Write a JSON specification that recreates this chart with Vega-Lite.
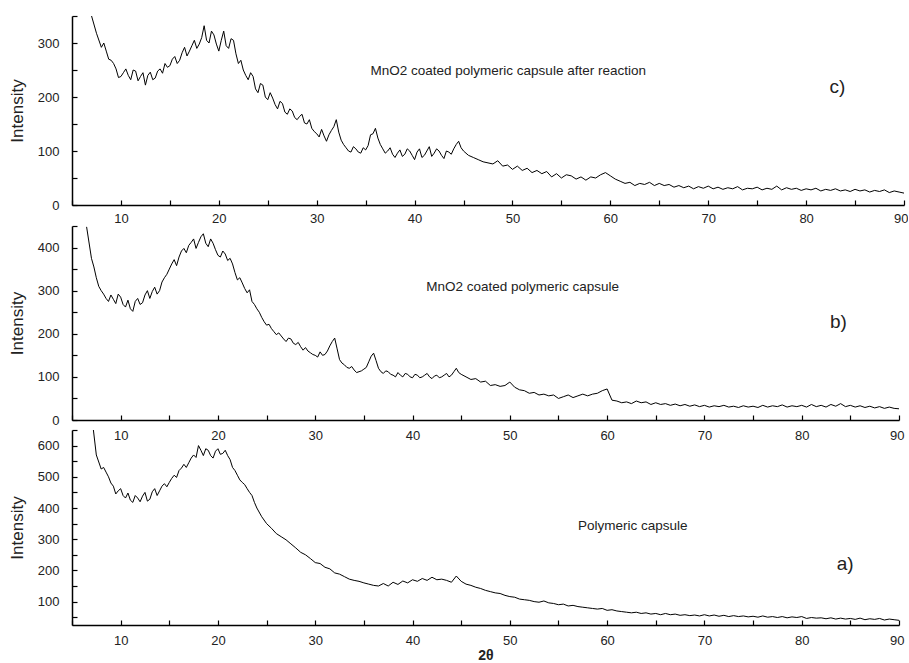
{
"$schema": "https://vega.github.io/schema/vega-lite/v6.json",
"padding": {"left": 8, "top": 15, "right": 0, "bottom": 0},
"config": {
  "view": {"stroke": null},
  "axis": {"grid": false, "domainColor": "#000", "domainWidth": 1.5, "tickColor": "#000", "tickWidth": 1.2, "tickSize": -5,
    "labelColor": "#222", "labelFont": "Liberation Sans", "labelFontSize": 13,
    "titleColor": "#222", "titleFont": "Liberation Sans", "titleFontSize": 17, "titleFontWeight": "normal"},
  "text": {"font": "Liberation Sans", "color": "#222"}
},
"datasets": {
"c": [{"t":7,"i":350},{"t":7.5,"i":318},{"t":8,"i":292},{"t":8.5,"i":285},{"t":9,"i":268},{"t":9.5,"i":252},{"t":10,"i":238},{"t":10.5,"i":252},{"t":11,"i":232},{"t":11.5,"i":248},{"t":12,"i":238},{"t":12.5,"i":222},{"t":13,"i":246},{"t":13.5,"i":235},{"t":14,"i":252},{"t":14.5,"i":262},{"t":15,"i":258},{"t":15.5,"i":275},{"t":16,"i":268},{"t":16.5,"i":292},{"t":17,"i":285},{"t":17.5,"i":305},{"t":18,"i":298},{"t":18.5,"i":332},{"t":19,"i":300},{"t":19.5,"i":315},{"t":20,"i":285},{"t":20.5,"i":322},{"t":21,"i":290},{"t":21.5,"i":305},{"t":22,"i":262},{"t":22.5,"i":250},{"t":23,"i":232},{"t":23.5,"i":238},{"t":24,"i":208},{"t":24.5,"i":222},{"t":25,"i":195},{"t":25.5,"i":198},{"t":26,"i":178},{"t":26.5,"i":188},{"t":27,"i":168},{"t":27.5,"i":174},{"t":28,"i":158},{"t":28.5,"i":168},{"t":29,"i":150},{"t":29.5,"i":142},{"t":30,"i":132},{"t":30.5,"i":140},{"t":31,"i":118},{"t":31.5,"i":138},{"t":32,"i":158},{"t":32.5,"i":120},{"t":33,"i":106},{"t":33.5,"i":98},{"t":34,"i":104},{"t":34.5,"i":96},{"t":35,"i":102},{"t":35.5,"i":130},{"t":36,"i":142},{"t":36.5,"i":112},{"t":37,"i":96},{"t":37.5,"i":106},{"t":38,"i":88},{"t":38.5,"i":102},{"t":39,"i":94},{"t":39.5,"i":100},{"t":40,"i":84},{"t":40.5,"i":104},{"t":41,"i":92},{"t":41.5,"i":108},{"t":42,"i":96},{"t":42.5,"i":100},{"t":43,"i":86},{"t":43.5,"i":98},{"t":44,"i":104},{"t":44.5,"i":118},{"t":45,"i":100},{"t":45.5,"i":92},{"t":46,"i":88},{"t":46.5,"i":84},{"t":47,"i":80},{"t":47.5,"i":78},{"t":48,"i":76},{"t":48.5,"i":82},{"t":49,"i":72},{"t":49.5,"i":74},{"t":50,"i":66},{"t":50.5,"i":72},{"t":51,"i":64},{"t":51.5,"i":68},{"t":52,"i":60},{"t":52.5,"i":64},{"t":53,"i":58},{"t":53.5,"i":62},{"t":54,"i":52},{"t":54.5,"i":58},{"t":55,"i":50},{"t":55.5,"i":56},{"t":56,"i":54},{"t":56.5,"i":48},{"t":57,"i":52},{"t":57.5,"i":46},{"t":58,"i":52},{"t":58.5,"i":50},{"t":59,"i":56},{"t":59.5,"i":60},{"t":60,"i":54},{"t":60.5,"i":48},{"t":61,"i":44},{"t":61.5,"i":40},{"t":62,"i":42},{"t":62.5,"i":36},{"t":63,"i":40},{"t":63.5,"i":38},{"t":64,"i":42},{"t":64.5,"i":36},{"t":65,"i":40},{"t":65.5,"i":36},{"t":66,"i":38},{"t":66.5,"i":33},{"t":67,"i":36},{"t":67.5,"i":32},{"t":68,"i":35},{"t":68.5,"i":30},{"t":69,"i":34},{"t":69.5,"i":31},{"t":70,"i":35},{"t":70.5,"i":30},{"t":71,"i":33},{"t":71.5,"i":29},{"t":72,"i":32},{"t":72.5,"i":30},{"t":73,"i":34},{"t":73.5,"i":28},{"t":74,"i":31},{"t":74.5,"i":30},{"t":75,"i":33},{"t":75.5,"i":28},{"t":76,"i":31},{"t":76.5,"i":29},{"t":77,"i":35},{"t":77.5,"i":28},{"t":78,"i":32},{"t":78.5,"i":29},{"t":79,"i":31},{"t":79.5,"i":27},{"t":80,"i":30},{"t":80.5,"i":28},{"t":81,"i":31},{"t":81.5,"i":26},{"t":82,"i":29},{"t":82.5,"i":27},{"t":83,"i":30},{"t":83.5,"i":26},{"t":84,"i":28},{"t":84.5,"i":25},{"t":85,"i":29},{"t":85.5,"i":26},{"t":86,"i":28},{"t":86.5,"i":24},{"t":87,"i":27},{"t":87.5,"i":25},{"t":88,"i":28},{"t":88.5,"i":23},{"t":89,"i":26},{"t":89.5,"i":24},{"t":90,"i":22},
{"t":8.25,"i":300},{"t":8.75,"i":270},{"t":9.25,"i":262},{"t":9.75,"i":236},{"t":10.25,"i":245},{"t":10.75,"i":240},{"t":11.25,"i":250},{"t":11.75,"i":230},{"t":12.25,"i":245},{"t":12.75,"i":240},{"t":13.25,"i":232},{"t":13.75,"i":248},{"t":14.25,"i":244},{"t":14.75,"i":255},{"t":15.25,"i":270},{"t":15.75,"i":262},{"t":16.25,"i":282},{"t":16.75,"i":276},{"t":17.25,"i":295},{"t":17.75,"i":290},{"t":18.25,"i":310},{"t":18.75,"i":305},{"t":19.25,"i":322},{"t":19.75,"i":298},{"t":20.25,"i":305},{"t":20.75,"i":295},{"t":21.25,"i":308},{"t":21.75,"i":280},{"t":22.25,"i":268},{"t":22.75,"i":240},{"t":23.25,"i":245},{"t":23.75,"i":215},{"t":24.25,"i":225},{"t":24.75,"i":200},{"t":25.25,"i":208},{"t":25.75,"i":186},{"t":26.25,"i":192},{"t":26.75,"i":172},{"t":27.25,"i":178},{"t":27.75,"i":162},{"t":28.25,"i":164},{"t":28.75,"i":152},{"t":29.25,"i":158},{"t":29.75,"i":136},{"t":30.25,"i":126},{"t":30.75,"i":128},{"t":31.25,"i":130},{"t":31.75,"i":145},{"t":32.25,"i":135},{"t":32.75,"i":112},{"t":33.25,"i":100},{"t":33.75,"i":108},{"t":34.25,"i":98},{"t":34.75,"i":106},{"t":35.25,"i":110},{"t":35.75,"i":132},{"t":36.25,"i":124},{"t":36.75,"i":104},{"t":37.25,"i":100},{"t":37.75,"i":94},{"t":38.25,"i":96},{"t":38.75,"i":90},{"t":39.25,"i":104},{"t":39.75,"i":92},{"t":40.25,"i":98},{"t":40.75,"i":88},{"t":41.25,"i":100},{"t":41.75,"i":90},{"t":42.25,"i":104},{"t":42.75,"i":92},{"t":43.25,"i":100},{"t":43.75,"i":94},{"t":44.25,"i":112},{"t":44.75,"i":106}],
"b": [{"t":6.5,"i":448},{"t":7,"i":375},{"t":7.5,"i":330},{"t":8,"i":300},{"t":8.5,"i":282},{"t":9,"i":290},{"t":9.5,"i":270},{"t":10,"i":285},{"t":10.5,"i":262},{"t":11,"i":258},{"t":11.5,"i":275},{"t":12,"i":268},{"t":12.5,"i":290},{"t":13,"i":282},{"t":13.5,"i":308},{"t":14,"i":300},{"t":14.5,"i":330},{"t":15,"i":350},{"t":15.5,"i":372},{"t":16,"i":378},{"t":16.5,"i":398},{"t":17,"i":405},{"t":17.5,"i":420},{"t":18,"i":412},{"t":18.5,"i":432},{"t":19,"i":402},{"t":19.5,"i":410},{"t":20,"i":382},{"t":20.5,"i":392},{"t":21,"i":370},{"t":21.5,"i":362},{"t":22,"i":325},{"t":22.5,"i":318},{"t":23,"i":295},{"t":23.5,"i":275},{"t":24,"i":258},{"t":24.5,"i":238},{"t":25,"i":220},{"t":25.5,"i":212},{"t":26,"i":198},{"t":26.5,"i":195},{"t":27,"i":182},{"t":27.5,"i":188},{"t":28,"i":175},{"t":28.5,"i":170},{"t":29,"i":168},{"t":29.5,"i":156},{"t":30,"i":150},{"t":30.5,"i":158},{"t":31,"i":152},{"t":31.5,"i":172},{"t":32,"i":190},{"t":32.5,"i":140},{"t":33,"i":128},{"t":33.5,"i":120},{"t":34,"i":116},{"t":34.5,"i":112},{"t":35,"i":118},{"t":35.5,"i":135},{"t":36,"i":155},{"t":36.5,"i":120},{"t":37,"i":108},{"t":37.5,"i":112},{"t":38,"i":104},{"t":38.5,"i":110},{"t":39,"i":100},{"t":39.5,"i":106},{"t":40,"i":98},{"t":40.5,"i":104},{"t":41,"i":100},{"t":41.5,"i":108},{"t":42,"i":96},{"t":42.5,"i":104},{"t":43,"i":100},{"t":43.5,"i":108},{"t":44,"i":104},{"t":44.5,"i":120},{"t":45,"i":106},{"t":45.5,"i":100},{"t":46,"i":94},{"t":46.5,"i":96},{"t":47,"i":88},{"t":47.5,"i":90},{"t":48,"i":80},{"t":48.5,"i":82},{"t":49,"i":78},{"t":49.5,"i":80},{"t":50,"i":88},{"t":50.5,"i":76},{"t":51,"i":70},{"t":51.5,"i":68},{"t":52,"i":62},{"t":52.5,"i":64},{"t":53,"i":58},{"t":53.5,"i":60},{"t":54,"i":56},{"t":54.5,"i":58},{"t":55,"i":50},{"t":55.5,"i":54},{"t":56,"i":58},{"t":56.5,"i":52},{"t":57,"i":56},{"t":57.5,"i":60},{"t":58,"i":56},{"t":58.5,"i":60},{"t":59,"i":62},{"t":59.5,"i":68},{"t":60,"i":72},{"t":60.5,"i":46},{"t":61,"i":44},{"t":61.5,"i":40},{"t":62,"i":42},{"t":62.5,"i":38},{"t":63,"i":44},{"t":63.5,"i":40},{"t":64,"i":42},{"t":64.5,"i":36},{"t":65,"i":40},{"t":65.5,"i":36},{"t":66,"i":38},{"t":66.5,"i":34},{"t":67,"i":37},{"t":67.5,"i":33},{"t":68,"i":36},{"t":68.5,"i":32},{"t":69,"i":35},{"t":69.5,"i":31},{"t":70,"i":34},{"t":70.5,"i":30},{"t":71,"i":33},{"t":71.5,"i":31},{"t":72,"i":34},{"t":72.5,"i":30},{"t":73,"i":32},{"t":73.5,"i":29},{"t":74,"i":33},{"t":74.5,"i":30},{"t":75,"i":32},{"t":75.5,"i":29},{"t":76,"i":34},{"t":76.5,"i":30},{"t":77,"i":33},{"t":77.5,"i":31},{"t":78,"i":35},{"t":78.5,"i":30},{"t":79,"i":33},{"t":79.5,"i":31},{"t":80,"i":34},{"t":80.5,"i":30},{"t":81,"i":36},{"t":81.5,"i":31},{"t":82,"i":34},{"t":82.5,"i":30},{"t":83,"i":36},{"t":83.5,"i":32},{"t":84,"i":38},{"t":84.5,"i":31},{"t":85,"i":34},{"t":85.5,"i":30},{"t":86,"i":33},{"t":86.5,"i":29},{"t":87,"i":32},{"t":87.5,"i":28},{"t":88,"i":31},{"t":88.5,"i":27},{"t":89,"i":30},{"t":89.5,"i":27},{"t":90,"i":26},
{"t":7.25,"i":355},{"t":7.75,"i":310},{"t":8.25,"i":292},{"t":8.75,"i":275},{"t":9.25,"i":280},{"t":9.75,"i":292},{"t":10.25,"i":268},{"t":10.75,"i":278},{"t":11.25,"i":252},{"t":11.75,"i":282},{"t":12.25,"i":272},{"t":12.75,"i":300},{"t":13.25,"i":298},{"t":13.75,"i":292},{"t":14.25,"i":320},{"t":14.75,"i":338},{"t":15.25,"i":362},{"t":15.75,"i":358},{"t":16.25,"i":392},{"t":16.75,"i":388},{"t":17.25,"i":412},{"t":17.75,"i":398},{"t":18.25,"i":425},{"t":18.75,"i":410},{"t":19.25,"i":420},{"t":19.75,"i":395},{"t":20.25,"i":378},{"t":20.75,"i":385},{"t":21.25,"i":375},{"t":21.75,"i":342},{"t":22.25,"i":330},{"t":22.75,"i":305},{"t":23.25,"i":302},{"t":23.75,"i":268},{"t":24.25,"i":250},{"t":24.75,"i":228},{"t":25.25,"i":222},{"t":25.75,"i":205},{"t":26.25,"i":202},{"t":26.75,"i":188},{"t":27.25,"i":190},{"t":27.75,"i":178},{"t":28.25,"i":180},{"t":28.75,"i":162},{"t":29.25,"i":160},{"t":29.75,"i":152},{"t":30.25,"i":146},{"t":30.75,"i":150},{"t":31.25,"i":160},{"t":31.75,"i":182},{"t":32.25,"i":165},{"t":32.75,"i":132},{"t":33.25,"i":122},{"t":33.75,"i":124},{"t":34.25,"i":110},{"t":34.75,"i":114},{"t":35.25,"i":122},{"t":35.75,"i":148},{"t":36.25,"i":138},{"t":36.75,"i":112},{"t":37.25,"i":114},{"t":37.75,"i":106},{"t":38.25,"i":100},{"t":38.75,"i":104},{"t":39.25,"i":108},{"t":39.75,"i":100},{"t":40.25,"i":106},{"t":40.75,"i":98},{"t":41.25,"i":104},{"t":41.75,"i":100},{"t":42.25,"i":102},{"t":42.75,"i":98},{"t":43.25,"i":104},{"t":43.75,"i":100},{"t":44.25,"i":112},{"t":44.75,"i":110}],
"a": [{"t":7.2,"i":650},{"t":7.5,"i":570},{"t":8,"i":525},{"t":8.5,"i":515},{"t":9,"i":480},{"t":9.5,"i":445},{"t":10,"i":462},{"t":10.5,"i":432},{"t":11,"i":425},{"t":11.5,"i":440},{"t":12,"i":420},{"t":12.5,"i":450},{"t":13,"i":428},{"t":13.5,"i":462},{"t":14,"i":455},{"t":14.5,"i":478},{"t":15,"i":482},{"t":15.5,"i":505},{"t":16,"i":520},{"t":16.5,"i":540},{"t":17,"i":545},{"t":17.5,"i":570},{"t":18,"i":600},{"t":18.5,"i":568},{"t":19,"i":585},{"t":19.5,"i":560},{"t":20,"i":590},{"t":20.5,"i":575},{"t":21,"i":568},{"t":21.5,"i":530},{"t":22,"i":505},{"t":22.5,"i":482},{"t":23,"i":462},{"t":23.5,"i":440},{"t":24,"i":400},{"t":24.5,"i":372},{"t":25,"i":350},{"t":25.5,"i":335},{"t":26,"i":318},{"t":26.5,"i":308},{"t":27,"i":298},{"t":27.5,"i":285},{"t":28,"i":272},{"t":28.5,"i":258},{"t":29,"i":250},{"t":29.5,"i":238},{"t":30,"i":225},{"t":30.5,"i":222},{"t":31,"i":210},{"t":31.5,"i":205},{"t":32,"i":192},{"t":32.5,"i":188},{"t":33,"i":180},{"t":33.5,"i":172},{"t":34,"i":168},{"t":34.5,"i":165},{"t":35,"i":160},{"t":35.5,"i":156},{"t":36,"i":152},{"t":36.5,"i":150},{"t":37,"i":158},{"t":37.5,"i":150},{"t":38,"i":162},{"t":38.5,"i":155},{"t":39,"i":166},{"t":39.5,"i":160},{"t":40,"i":170},{"t":40.5,"i":165},{"t":41,"i":174},{"t":41.5,"i":168},{"t":42,"i":178},{"t":42.5,"i":170},{"t":43,"i":172},{"t":43.5,"i":168},{"t":44,"i":162},{"t":44.5,"i":182},{"t":45,"i":165},{"t":45.5,"i":156},{"t":46,"i":152},{"t":46.5,"i":146},{"t":47,"i":142},{"t":47.5,"i":136},{"t":48,"i":132},{"t":48.5,"i":128},{"t":49,"i":126},{"t":49.5,"i":120},{"t":50,"i":116},{"t":50.5,"i":114},{"t":51,"i":108},{"t":51.5,"i":106},{"t":52,"i":104},{"t":52.5,"i":100},{"t":53,"i":98},{"t":53.5,"i":102},{"t":54,"i":96},{"t":54.5,"i":94},{"t":55,"i":90},{"t":55.5,"i":92},{"t":56,"i":86},{"t":56.5,"i":88},{"t":57,"i":84},{"t":57.5,"i":82},{"t":58,"i":80},{"t":58.5,"i":78},{"t":59,"i":76},{"t":59.5,"i":78},{"t":60,"i":72},{"t":60.5,"i":74},{"t":61,"i":70},{"t":61.5,"i":68},{"t":62,"i":66},{"t":62.5,"i":64},{"t":63,"i":66},{"t":63.5,"i":62},{"t":64,"i":64},{"t":64.5,"i":60},{"t":65,"i":62},{"t":65.5,"i":58},{"t":66,"i":62},{"t":66.5,"i":58},{"t":67,"i":60},{"t":67.5,"i":56},{"t":68,"i":58},{"t":68.5,"i":55},{"t":69,"i":57},{"t":69.5,"i":54},{"t":70,"i":58},{"t":70.5,"i":54},{"t":71,"i":57},{"t":71.5,"i":53},{"t":72,"i":56},{"t":72.5,"i":52},{"t":73,"i":55},{"t":73.5,"i":52},{"t":74,"i":54},{"t":74.5,"i":51},{"t":75,"i":53},{"t":75.5,"i":50},{"t":76,"i":54},{"t":76.5,"i":50},{"t":77,"i":52},{"t":77.5,"i":49},{"t":78,"i":52},{"t":78.5,"i":48},{"t":79,"i":51},{"t":79.5,"i":49},{"t":80,"i":52},{"t":80.5,"i":46},{"t":81,"i":49},{"t":81.5,"i":47},{"t":82,"i":48},{"t":82.5,"i":45},{"t":83,"i":48},{"t":83.5,"i":44},{"t":84,"i":47},{"t":84.5,"i":44},{"t":85,"i":46},{"t":85.5,"i":43},{"t":86,"i":47},{"t":86.5,"i":42},{"t":87,"i":45},{"t":87.5,"i":43},{"t":88,"i":46},{"t":88.5,"i":41},{"t":89,"i":44},{"t":89.5,"i":42},{"t":90,"i":40},
{"t":8.25,"i":530},{"t":8.75,"i":500},{"t":9.25,"i":470},{"t":9.75,"i":455},{"t":10.25,"i":440},{"t":10.75,"i":448},{"t":11.25,"i":418},{"t":11.75,"i":432},{"t":12.25,"i":438},{"t":12.75,"i":422},{"t":13.25,"i":452},{"t":13.75,"i":440},{"t":14.25,"i":470},{"t":14.75,"i":468},{"t":15.25,"i":495},{"t":15.75,"i":498},{"t":16.25,"i":528},{"t":16.75,"i":530},{"t":17.25,"i":560},{"t":17.75,"i":562},{"t":18.25,"i":585},{"t":18.75,"i":590},{"t":19.25,"i":568},{"t":19.75,"i":582},{"t":20.25,"i":572},{"t":20.75,"i":585},{"t":21.25,"i":555},{"t":21.75,"i":520},{"t":22.25,"i":490},{"t":22.75,"i":475},{"t":23.25,"i":450},{"t":23.75,"i":418}]
},
"concat": [
 {
  "width": 832, "height": 189,
  "encoding": {
    "x": {"field": "t", "type": "quantitative", "scale": {"domain": [5, 90], "nice": false, "zero": false},
      "axis": {"title": null, "values": [5,10,15,20,25,30,35,40,45,50,55,60,65,70,75,80,85,90],
        "labelExpr": "datum.value % 10 === 0 ? datum.label : ''",
        "labelPadding": 12, "labelFlush": true, "labelFlushOffset": 4}},
    "y": {"field": "i", "type": "quantitative", "scale": {"domain": [0, 350], "nice": false},
      "axis": {"title": "Intensity", "values": [0,50,100,150,200,250,300,350],
        "labelExpr": "datum.value % 100 === 0 ? datum.label : ''",
        "labelPadding": 18, "titlePadding": 11, "labelFlush": false}}
  },
  "layer": [
    {"data": {"name": "c"}, "mark": {"type": "line", "color": "#000", "strokeWidth": 1, "clip": true}},
    {"data": {"values": [{"t": 35.5, "i": 248, "label": "MnO2 coated polymeric capsule after reaction"}]},
     "mark": {"type": "text", "align": "left", "baseline": "middle", "fontSize": 13.5}, "encoding": {"text": {"field": "label"}}},
    {"data": {"values": [{"t": 82.4, "i": 218, "label": "c)"}]},
     "mark": {"type": "text", "align": "left", "baseline": "middle", "fontSize": 19}, "encoding": {"text": {"field": "label"}}}
  ]
 },
 {
  "spacing": 10,
  "bounds": "flush",
  "columns": 1,
  "concat": [
   {
    "width": 827, "height": 194,
    "encoding": {
      "x": {"field": "t", "type": "quantitative", "scale": {"domain": [5, 90], "nice": false, "zero": false},
        "axis": {"title": null, "values": [5,10,15,20,25,30,35,40,45,50,55,60,65,70,75,80,85,90],
          "labelExpr": "datum.value % 10 === 0 ? datum.label : ''",
          "labelPadding": 14, "labelFlush": true, "labelFlushOffset": 5}},
      "y": {"field": "i", "type": "quantitative", "scale": {"domain": [0, 450], "nice": false},
        "axis": {"title": "Intensity", "values": [0,50,100,150,200,250,300,350,400,450],
          "labelExpr": "datum.value % 100 === 0 ? datum.label : ''",
          "labelPadding": 18, "titlePadding": 11, "labelFlush": false}}
    },
    "layer": [
      {"data": {"name": "b"}, "mark": {"type": "line", "color": "#000", "strokeWidth": 1, "clip": true}},
      {"data": {"values": [{"t": 41.4, "i": 309, "label": "MnO2 coated polymeric capsule"}]},
       "mark": {"type": "text", "align": "left", "baseline": "middle", "fontSize": 13.5}, "encoding": {"text": {"field": "label"}}},
      {"data": {"values": [{"t": 82.9, "i": 228, "label": "b)"}]},
       "mark": {"type": "text", "align": "left", "baseline": "middle", "fontSize": 19}, "encoding": {"text": {"field": "label"}}}
    ]
   },
   {
    "width": 827, "height": 195,
    "encoding": {
      "x": {"field": "t", "type": "quantitative", "scale": {"domain": [5, 90], "nice": false, "zero": false},
        "axis": {"title": "2θ", "titleFontWeight": "bold", "titleFontSize": 14, "titlePadding": 1,
          "values": [5,10,15,20,25,30,35,40,45,50,55,60,65,70,75,80,85,90],
          "labelExpr": "datum.value % 10 === 0 ? datum.label : ''",
          "labelPadding": 14, "labelFlush": true, "labelFlushOffset": 5}},
      "y": {"field": "i", "type": "quantitative", "scale": {"domain": [25, 650], "nice": false, "zero": false},
        "axis": {"title": "Intensity", "values": [50,100,150,200,250,300,350,400,450,500,550,600,650],
          "labelExpr": "datum.value % 100 === 0 ? datum.label : ''",
          "labelPadding": 18, "titlePadding": 11, "labelFlush": false}}
    },
    "layer": [
      {"data": {"name": "a"}, "mark": {"type": "line", "color": "#000", "strokeWidth": 1, "clip": true}},
      {"data": {"values": [{"t": 57, "i": 342, "label": "Polymeric capsule"}]},
       "mark": {"type": "text", "align": "left", "baseline": "middle", "fontSize": 13.5}, "encoding": {"text": {"field": "label"}}},
      {"data": {"values": [{"t": 83.6, "i": 219, "label": "a)"}]},
       "mark": {"type": "text", "align": "left", "baseline": "middle", "fontSize": 19}, "encoding": {"text": {"field": "label"}}}
    ]
   }
  ]
 }
],
"columns": 1,
"spacing": 0,
"bounds": "full"
}
